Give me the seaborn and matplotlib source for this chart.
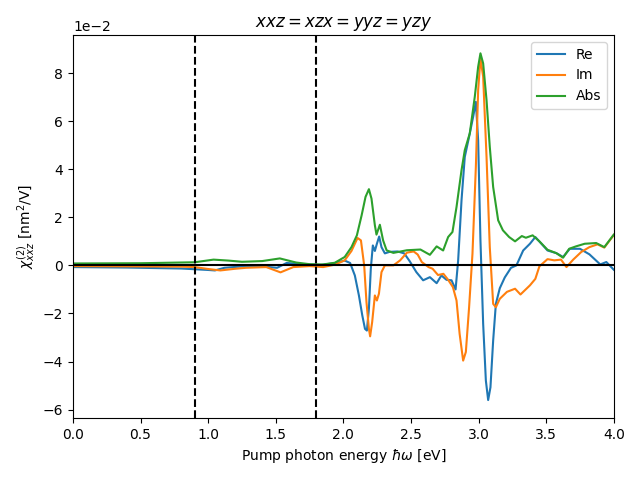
"""Second-harmonic susceptibility spectrum (xxz component)."""

import matplotlib
matplotlib.use("Agg")
import matplotlib.pyplot as plt
import seaborn as sns

# values in units of 1e-2 nm^2/V
re_energy = [0.0, 0.4, 0.8, 1.0, 1.05, 1.12, 1.28, 1.45, 1.51, 1.58, 1.7, 1.83, 1.94, 2.01,
             2.05, 2.085, 2.115, 2.14, 2.16, 2.174, 2.189, 2.203, 2.218, 2.233, 2.248, 2.265,
             2.282, 2.307, 2.34, 2.40, 2.45, 2.49, 2.54, 2.59, 2.64, 2.69, 2.725, 2.763, 2.80,
             2.83, 2.849, 2.874, 2.898, 2.93, 2.96, 2.98, 2.997, 3.014, 3.034, 3.054, 3.071,
             3.088, 3.108, 3.128, 3.157, 3.194, 3.24, 3.28, 3.33, 3.38, 3.42, 3.465, 3.51,
             3.575, 3.625, 3.675, 3.75, 3.82, 3.90, 3.945, 4.0]
re_values = [-0.07, -0.09, -0.13, -0.19, -0.21, -0.1, -0.03, -0.07, -0.1, 0.1, 0.05, 0.01, 0.1, 0.2,
             0.1, -0.42, -1.25, -2.08, -2.64, -2.71, -1.8, -0.14, 0.83, 0.6, 0.9, 1.2,
             0.76, 0.5, 0.56, 0.58, 0.5, 0.18, -0.28, -0.62, -0.49, -0.74, -0.42, -0.6, -0.62,
             -1.0, 0.2, 2.71, 4.51, 5.35, 6.18, 6.8, 5.2, 1.04, -2.43, -4.79, -5.6,
             -5.07, -3.125, -1.6, -0.95, -0.5, -0.1, 0.0, 0.62, 0.9, 1.18, 0.9, 0.62,
             0.51, 0.35, 0.69, 0.69, 0.46, 0.04, 0.14, -0.18]

im_energy = [0.0, 0.4, 0.8, 0.9, 1.0, 1.09, 1.2, 1.28, 1.43, 1.535, 1.63, 1.75, 1.85, 1.937,
             2.01, 2.06, 2.105, 2.13, 2.154, 2.171, 2.189, 2.198, 2.213, 2.233, 2.248, 2.263,
             2.282, 2.307, 2.37, 2.42, 2.47, 2.52, 2.55, 2.58, 2.63, 2.66, 2.70, 2.74, 2.775,
             2.81, 2.837, 2.86, 2.886, 2.906, 2.93, 2.955, 2.98, 2.997, 3.014, 3.034, 3.059,
             3.083, 3.108, 3.128, 3.157, 3.21, 3.27, 3.31, 3.38, 3.42, 3.45, 3.51, 3.56, 3.61,
             3.65, 3.70, 3.76, 3.82, 3.88, 3.93, 4.0]
im_values = [-0.03, -0.04, -0.05, -0.07, -0.15, -0.21, -0.14, -0.1, -0.07, -0.29, -0.07, -0.03, -0.07, 0.03,
             0.21, 0.6, 1.14, 1.04, 0.0, -1.53, -2.64, -2.95, -2.36, -1.25, -1.46, -1.18,
             -0.28, 0.0, 0.0, 0.21, 0.53, 0.58, 0.45, 0.14, -0.07, -0.14, -0.4, -0.35, -0.6,
             -0.9, -1.46, -2.85, -3.96, -3.6, -1.74, 0.49, 4.1, 7.29, 8.6, 7.85, 4.51,
             0.76, -1.6, -1.74, -1.39, -1.1, -0.97, -1.21, -0.83, -0.56, -0.04, 0.26, 0.21, 0.24,
             -0.07, 0.24, 0.56, 0.76, 0.875, 0.74, 1.26]

abs_energy = [0.0, 0.5, 0.8, 0.9, 1.04, 1.15, 1.25, 1.4, 1.53, 1.65, 1.75, 1.85, 1.937, 2.01,
              2.06, 2.10, 2.135, 2.164, 2.189, 2.208, 2.233, 2.245, 2.27, 2.294, 2.32, 2.37,
              2.47, 2.57, 2.64, 2.69, 2.738, 2.775, 2.807, 2.837, 2.874, 2.898, 2.935, 2.972,
              2.997, 3.014, 3.034, 3.059, 3.083, 3.108, 3.145, 3.18, 3.226, 3.27, 3.32, 3.35,
              3.40, 3.45, 3.51, 3.575, 3.625, 3.67, 3.72, 3.785, 3.87, 3.93, 4.0]
abs_values = [0.08, 0.09, 0.12, 0.13, 0.24, 0.2, 0.15, 0.18, 0.29, 0.12, 0.05, 0.04, 0.11, 0.35,
              0.76, 1.25, 2.08, 2.85, 3.17, 2.78, 1.67, 1.28, 1.69, 1.04, 0.625, 0.52,
              0.63, 0.66, 0.44, 0.79, 0.62, 1.18, 1.39, 2.43, 3.96, 4.79, 5.49, 7.01,
              8.26, 8.82, 8.4, 6.875, 4.93, 3.26, 1.875, 1.46, 1.18, 1.0, 1.22, 1.15,
              1.25, 1.0, 0.65, 0.51, 0.32, 0.69, 0.79, 0.9, 0.93, 0.76, 1.28]

scale = 1e-2
vlines = [0.9, 1.8]

fig, ax = plt.subplots(figsize=(6.4, 4.8), dpi=100)

series = [("Re", re_energy, re_values, "#1f77b4"),
          ("Im", im_energy, im_values, "#ff7f0e"),
          ("Abs", abs_energy, abs_values, "#2ca02c")]
for name, xs, ys, color in series:
    sns.lineplot(x=xs, y=[v * scale for v in ys], label=name, color=color, linewidth=1.5, ax=ax)

ax.axhline(0, color="black", linewidth=1.5)
for xv in vlines:
    ax.axvline(xv, color="black", linestyle="--", linewidth=1.5)

ax.set_xlim(0, 4)
ax.set_ylim(-6.35 * scale, 9.58 * scale)
ax.ticklabel_format(axis="y", style="sci", scilimits=(0, 0))
ax.set_title("$xxz = xzx = yyz = yzy$")
ax.set_xlabel(r"Pump photon energy $\hbar\omega$ [eV]")
ax.set_ylabel(r"$\chi^{(2)}_{xxz}$ [nm$^2$/V]")
ax.legend(loc="upper right")

plt.subplots_adjust(left=0.114, right=0.959, top=0.927, bottom=0.129)
plt.savefig("out.png", dpi=100)
